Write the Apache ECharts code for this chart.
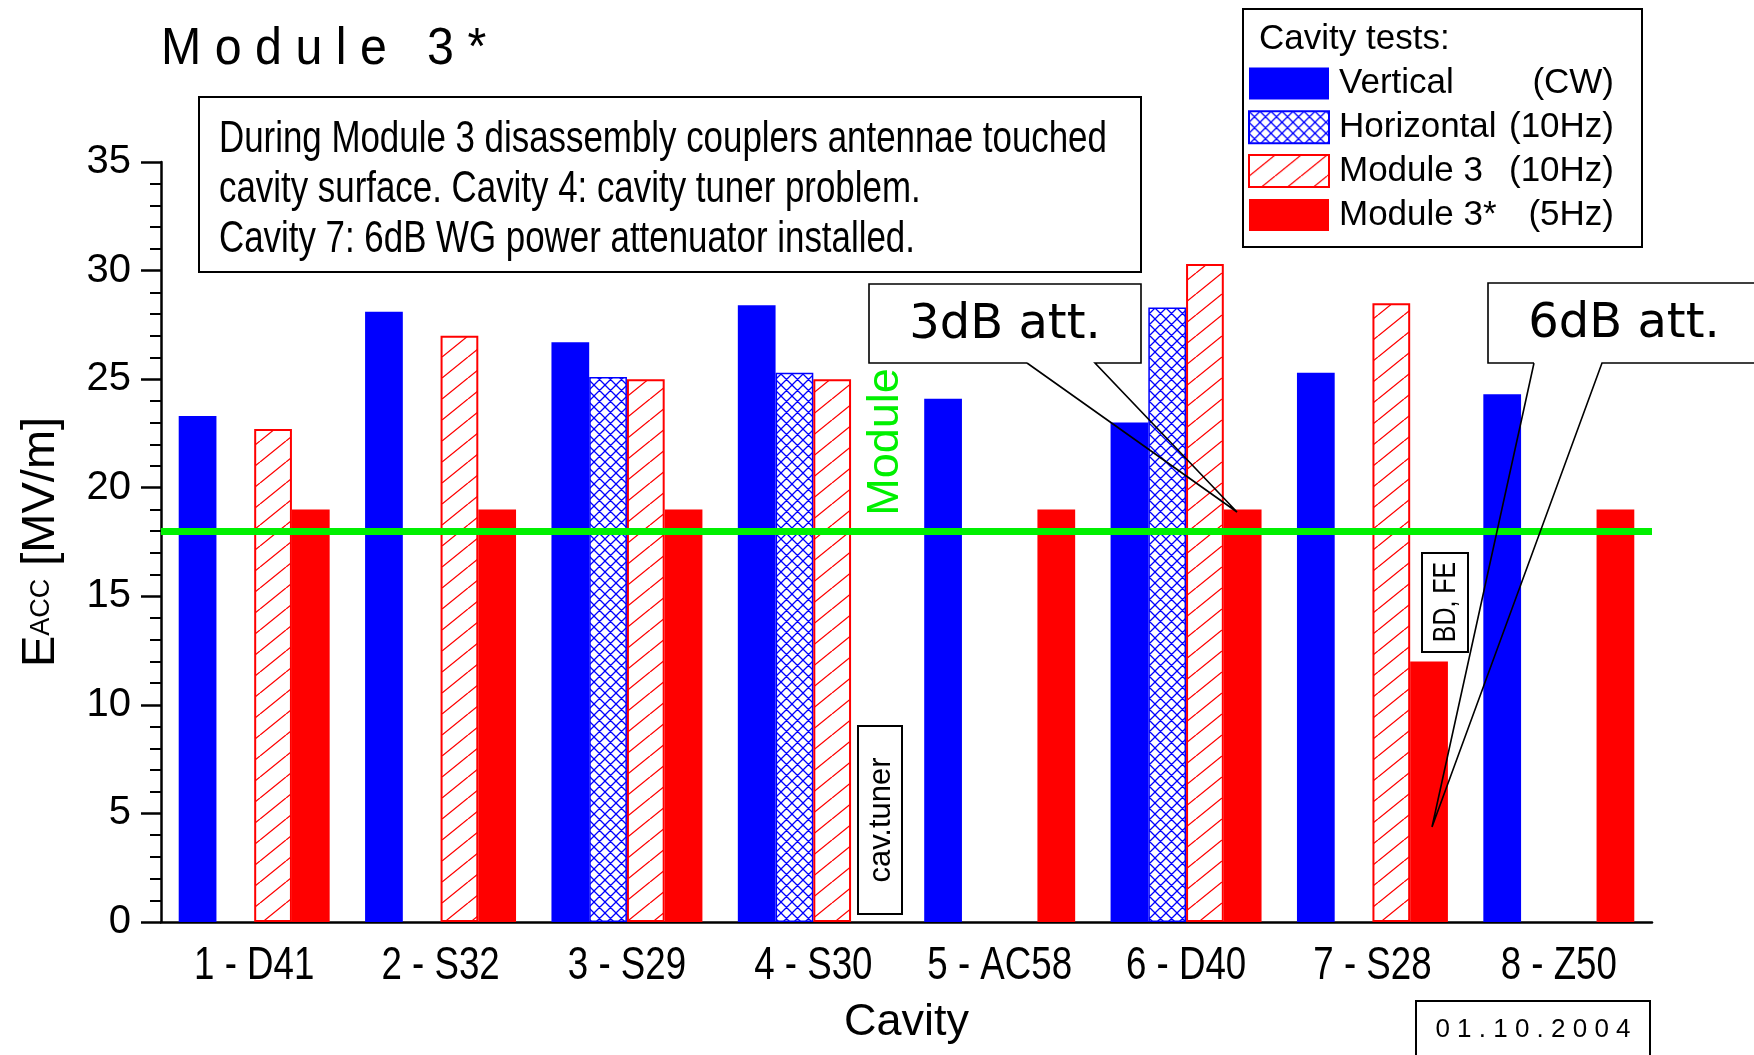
<!DOCTYPE html>
<html>
<head>
<meta charset="utf-8">
<title>Module 3*</title>
<script src="https://cdn.jsdelivr.net/npm/echarts@6.0.0/dist/echarts.min.js"></script>
<style>
html, body { margin: 0; padding: 0; background: #fff; }
#chart { width: 1754px; height: 1055px; }
</style>
</head>
<body>
<div id="chart"></div>
<script>
// cavities on the x axis
const cavities = ['1 - D41', '2 - S32', '3 - S29', '4 - S30', '5 - AC58', '6 - D40', '7 - S28', '8 - Z50']
// Eacc in MV/m for each test, null = no test
const vertical = [23.3, 28.1, 26.7, 28.4, 24.1, 23.0, 25.3, 24.3]
const horizontal = [null, null, 25.1, 25.3, null, 28.3, null, null]
const module3 = [22.7, 27.0, 25.0, 25.0, null, 30.3, 28.5, null]
const module3star = [19, 19, 19, null, 19, 19, 12, 19]
// module spec line
const moduleSpec = 18
const legendNames = ['Vertical', 'Horizontal', 'Module 3', 'Module 3*']
const legendModes = ['(CW)', '(10Hz)', '(10Hz)', '(5Hz)']

// no narrow font installed, so narrow text is Liberation Sans squeezed with scaleX
const SANS = "'Liberation Sans', Arial, sans-serif"
const DEJAVU = "'DejaVu Sans', Verdana, sans-serif"
const NARROW_X = 0.78

// small canvas tiles used as hatch fills
function hatch(w, h, color, lw, cross) {
  const c = document.createElement('canvas')
  c.width = w
  c.height = h
  const ctx = c.getContext('2d')
  ctx.fillStyle = '#fff'
  ctx.fillRect(0, 0, w, h)
  ctx.strokeStyle = color
  ctx.lineWidth = lw
  ctx.beginPath()
  for (let k = -1; k <= 1; k++) {
    ctx.moveTo(k * w, h)
    ctx.lineTo(k * w + w, 0)
    if (cross) {
      ctx.moveTo(k * w, 0)
      ctx.lineTo(k * w + w, h)
    }
  }
  ctx.stroke()
  return c
}

const crossTile = hatch(11, 11, '#0000ff', 1.3, true)
const slashTile = hatch(26, 21, '#ff0000', 1.3, false)

const chart = echarts.init(document.getElementById('chart'))

const barCommon = {
  type: 'bar',
  barGap: '0%',
  barCategoryGap: '19%',
  emphasis: { disabled: true },
}

const legendText = { fontFamily: SANS, fontSize: 35, lineHeight: 32, color: '#000' }
const calloutLine = { stroke: '#000', lineWidth: 1.6, fill: null }

const option = {
  animation: false,
  grid: { left: 161, right: 102, top: 162, bottom: 133 },
  legend: {
    orient: 'vertical',
    left: 1248,
    top: 66,
    padding: 0,
    itemWidth: 80,
    itemHeight: 32,
    itemGap: 8.8,
    icon: 'rect',
    selectedMode: false,
    data: legendNames,
    formatter: function (name) {
      return '{n|' + name + '}{p|' + legendModes[legendNames.indexOf(name)] + '}'
    },
    textStyle: {
      ...legendText,
      rich: {
        n: { ...legendText, width: 164, padding: [0, 0, 0, 5] },
        p: { ...legendText, width: 111, align: 'right' },
      },
    },
  },
  xAxis: [{
    type: 'category',
    data: cavities,
    name: 'Cavity',
    nameLocation: 'middle',
    nameGap: 78,
    nameTextStyle: { fontFamily: SANS, fontSize: 45, color: '#000' },
    axisLine: { lineStyle: { color: '#000', width: 2.5 } },
    axisTick: { length: 12, lineStyle: { color: '#000', width: 2.5 } },
    // labels are drawn below as squeezed text at the axis' own category centres
    axisLabel: { show: false },
  }, {
    // second copy only for the inner half of the crossing ticks
    type: 'category',
    data: cavities,
    position: 'bottom',
    axisLine: { show: false },
    axisTick: { inside: true, length: 12, lineStyle: { color: '#000', width: 2.5 } },
    axisLabel: { show: false },
  }],
  yAxis: {
    type: 'value',
    min: 0,
    max: 35,
    interval: 5,
    name: '{e|E}{s|ACC}{u| [MV/m]}',
    nameLocation: 'middle',
    nameRotate: 90,
    nameGap: 96,
    nameTextStyle: {
      rich: {
        e: { fontFamily: SANS, fontSize: 47, color: '#000' },
        s: { fontFamily: SANS, fontSize: 27, color: '#000', padding: [0, 0, 0, 0] },
        u: { fontFamily: SANS, fontSize: 47, color: '#000' },
      },
    },
    axisLine: { show: true, lineStyle: { color: '#000', width: 2.5 } },
    axisTick: { show: true, length: 20, lineStyle: { color: '#000', width: 2.5 } },
    minorTick: { show: true, splitNumber: 5, length: 11, lineStyle: { color: '#000', width: 2 } },
    splitLine: { show: false },
    axisLabel: { fontFamily: SANS, fontSize: 40, color: '#000', margin: 30 },
  },
  series: [{
    ...barCommon,
    name: 'Vertical',
    data: vertical,
    itemStyle: { color: '#0000ff' },
  }, {
    ...barCommon,
    name: 'Horizontal',
    data: horizontal,
    itemStyle: { color: { image: crossTile, repeat: 'repeat' }, borderColor: '#0000ff', borderWidth: 1.5 },
  }, {
    ...barCommon,
    name: 'Module 3',
    data: module3,
    itemStyle: { color: { image: slashTile, repeat: 'repeat' }, borderColor: '#ff0000', borderWidth: 2 },
  }, {
    ...barCommon,
    name: 'Module 3*',
    data: module3star,
    itemStyle: { color: '#ff0000' },
    markLine: {
      silent: true,
      symbol: ['none', 'none'],
      label: { show: false },
      lineStyle: { color: '#00f000', width: 7, type: 'solid' },
      data: [{ yAxis: moduleSpec }],
    },
  }],
}

chart.setOption(option)

function txt(x, y, text, size, extra, align, family) {
  return Object.assign({
    type: 'text', x: x, y: y, z: 101,
    style: { text: text, fontFamily: family || SANS, fontSize: size, fill: '#000', align: align || 'left', verticalAlign: 'middle' },
  }, extra || {})
}

const up = { rotation: Math.PI / 2 }

const elements = [
  // title
  txt(161, 50, 'M o d u l e   3 *', 52, { scaleX: 0.93 }),
  // note box
  { type: 'rect', z: 100, shape: { x: 199, y: 97, width: 942, height: 175 },
    style: { fill: '#fff', stroke: '#000', lineWidth: 2 } },
  txt(219, 140, 'During Module 3 disassembly couplers antennae touched', 45, { scaleX: 0.775 }),
  txt(219, 190, 'cavity surface. Cavity 4: cavity tuner problem.', 45, { scaleX: 0.775 }),
  txt(219, 240, 'Cavity 7: 6dB WG power attenuator installed.', 45, { scaleX: 0.775 }),
  // legend frame
  { type: 'rect', z: 1, shape: { x: 1243, y: 9, width: 399, height: 238 },
    style: { fill: null, stroke: '#000', lineWidth: 2 } },
  txt(1259, 39, 'Cavity tests:', 35),
  // spec line label
  { type: 'text', x: 886, y: 442, rotation: Math.PI / 2, z: 100,
    style: { text: 'Module', fontFamily: SANS, fontSize: 45, fill: '#00f000', align: 'center', verticalAlign: 'middle' } },
  // cav.tuner
  { type: 'rect', z: 100, shape: { x: 858, y: 726, width: 44, height: 188 },
    style: { fill: '#fff', stroke: '#000', lineWidth: 2 } },
  txt(881, 820, 'cav.tuner', 31, up, 'center'),
  // BD, FE
  { type: 'rect', z: 100, shape: { x: 1422, y: 553, width: 46, height: 99 },
    style: { fill: '#fff', stroke: '#000', lineWidth: 2 } },
  txt(1446, 602, 'BD, FE', 32, { rotation: Math.PI / 2, scaleX: NARROW_X }, 'center'),
  // 3dB callout
  { type: 'rect', z: 100, shape: { x: 869, y: 284, width: 272, height: 79 }, style: { fill: '#fff' } },
  { type: 'polyline', z: 101,
    shape: { points: [[1027, 363], [869, 363], [869, 284], [1141, 284], [1141, 363], [1095, 363], [1237, 512], [1027, 363]] },
    style: calloutLine },
  txt(1005, 326, '3dB att.', 48, {}, 'center', DEJAVU),
  // 6dB callout
  { type: 'rect', z: 100, shape: { x: 1488, y: 283, width: 300, height: 80 }, style: { fill: '#fff' } },
  { type: 'polyline', z: 101,
    shape: { points: [[1534, 363], [1488, 363], [1488, 283], [1790, 283], [1790, 363], [1602, 363], [1432, 827], [1534, 363]] },
    style: calloutLine },
  txt(1624, 325, '6dB att.', 48, {}, 'center', DEJAVU),
  // date
  { type: 'rect', z: 100, shape: { x: 1416, y: 1001, width: 234, height: 70 },
    style: { fill: '#fff', stroke: '#000', lineWidth: 2 } },
  txt(1533, 1030, '0 1 . 1 0 . 2 0 0 4', 26, {}, 'center'),
]

// category labels, placed at the centres the x axis gives
const labelY = chart.convertToPixel({ yAxisIndex: 0 }, 0) + 44
cavities.forEach(function (name) {
  const cx = chart.convertToPixel({ xAxisIndex: 0 }, name)
  elements.push(txt(cx, labelY, name, 47, { scaleX: NARROW_X }, 'center'))
})

chart.setOption({ graphic: { elements: elements } })

window.addEventListener('resize', function () {
  chart.resize()
})
</script>
</body>
</html>
